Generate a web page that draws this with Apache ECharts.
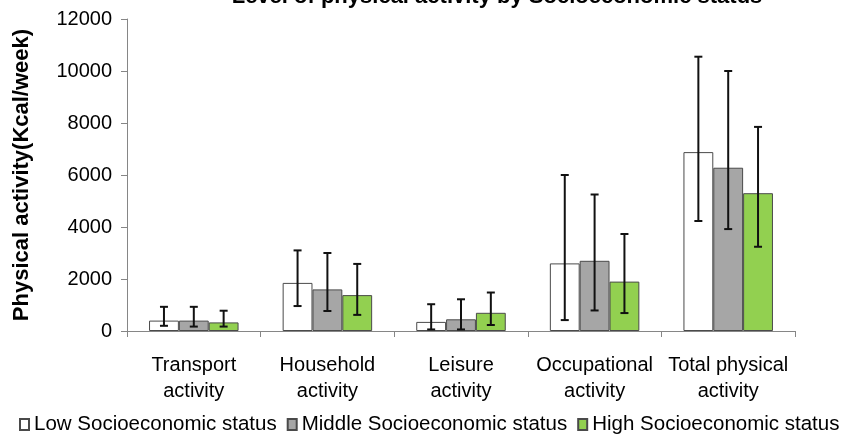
<!DOCTYPE html>
<html>
<head>
<meta charset="utf-8">
<script src="https://cdn.jsdelivr.net/npm/echarts@6/dist/echarts.min.js"></script>
<style>
  html, body { margin: 0; padding: 0; background: #fff; }
  #chart { width: 841px; height: 436px; }
</style>
</head>
<body>
<div id="chart"></div>
<script>
const categories = ['Transport\nactivity', 'Household\nactivity', 'Leisure\nactivity', 'Occupational\nactivity', 'Total physical\nactivity'];
const seriesNames = ['Low Socioeconomic status', 'Middle Socioeconomic status', 'High Socioeconomic status'];
const yTicks = [0, 2000, 4000, 6000, 8000, 10000, 12000];

// mean values
const lowMean = [400, 1850, 350, 2600, 6880];
const midMean = [400, 1600, 450, 2700, 6280];
const highMean = [330, 1380, 700, 1900, 5300];

// error bar ends
const lowLower = [200, 960, 60, 420, 4230];
const lowUpper = [930, 3100, 1030, 6000, 10550];
const midLower = [170, 770, 60, 790, 3920];
const midUpper = [930, 3000, 1220, 5250, 10000];
const highLower = [170, 620, 230, 690, 3240];
const highUpper = [780, 2580, 1480, 3730, 7850];

const fills = ['#ffffff', '#a6a6a6', '#92d050'];
const FONT = '"Liberation Sans", Arial, sans-serif';
const BAR_GAP_RATIO = 0.33;

const chart = echarts.init(document.getElementById('chart'));

// 误差线：按柱子的偏移画竖线和上下横帽
const errorSeries = (idx, lower, upper) => ({
    type: 'custom',
    name: 'err' + idx,
    z: 5,
    silent: true,
    data: lower.map((v, i) => [i, v, upper[i]]),
    encode: { x: 0, y: [1, 2] },
    renderItem: (params, api) => {
        const band = api.size([1, 0])[0];
        const bw = band * (1 - BAR_GAP_RATIO) / 3;
        const offset = (idx - 1) * bw;
        const lo = api.coord([api.value(0), api.value(1)]);
        const hi = api.coord([api.value(0), api.value(2)]);
        const x = lo[0] + offset;
        const cap = 4;
        const style = { stroke: '#111', lineWidth: 2 };
        return {
            type: 'group',
            children: [
                { type: 'line', shape: { x1: x, y1: lo[1], x2: x, y2: hi[1] }, style },
                { type: 'line', shape: { x1: x - cap, y1: lo[1], x2: x + cap, y2: lo[1] }, style },
                { type: 'line', shape: { x1: x - cap, y1: hi[1], x2: x + cap, y2: hi[1] }, style }
            ]
        };
    }
});

const barSeries = (idx, values) => ({
    name: seriesNames[idx],
    type: 'bar',
    data: values,
    barGap: '0%',
    barCategoryGap: (BAR_GAP_RATIO * 100) + '%',
    itemStyle: { color: fills[idx], borderColor: '#4a4a4a', borderWidth: 1 }
});

const option = {
    animation: false,
    backgroundColor: '#fff',
    title: {
        text: 'Level of physical activity by Socioeconomic status',
        left: 492,
        textAlign: 'center',
        top: -19,
        textStyle: { fontFamily: FONT, fontSize: 22, fontWeight: 'bold', color: '#000' }
    },
    legend: {
        data: seriesNames,
        left: 19,
        top: 409,
        width: 840,
        padding: [5, 0, 5, 0],
        itemWidth: 9,
        itemHeight: 11,
        itemGap: 10,
        icon: 'rect',
        textStyle: { fontFamily: FONT, fontSize: 20.5, color: '#000' }
    },
    grid: { left: 127, right: 46, top: 19, bottom: 105 },
    xAxis: {
        type: 'category',
        data: categories,
        axisLine: { lineStyle: { color: '#868686', width: 1 } },
        axisTick: { show: true, length: 6, lineStyle: { color: '#868686' } },
        axisLabel: { interval: 0, fontFamily: FONT, fontSize: 20, color: '#000', lineHeight: 26, margin: 21 }
    },
    yAxis: {
        type: 'value',
        min: yTicks[0],
        max: yTicks[yTicks.length - 1],
        interval: 2000,
        name: 'Physical activity(Kcal/week)',
        nameLocation: 'middle',
        nameGap: 94,
        nameTextStyle: { fontFamily: FONT, fontSize: 22, fontWeight: 'bold', color: '#000' },
        axisLine: { show: true, lineStyle: { color: '#868686' } },
        axisTick: { show: true, length: 6, lineStyle: { color: '#868686' } },
        splitLine: { show: false },
        axisLabel: { fontFamily: FONT, fontSize: 20, color: '#000', margin: 15, formatter: (v) => String(v) }
    },
    series: [
        barSeries(0, lowMean),
        barSeries(1, midMean),
        barSeries(2, highMean),
        errorSeries(0, lowLower, lowUpper),
        errorSeries(1, midLower, midUpper),
        errorSeries(2, highLower, highUpper)
    ]
};

chart.setOption(option);
</script>
</body>
</html>
